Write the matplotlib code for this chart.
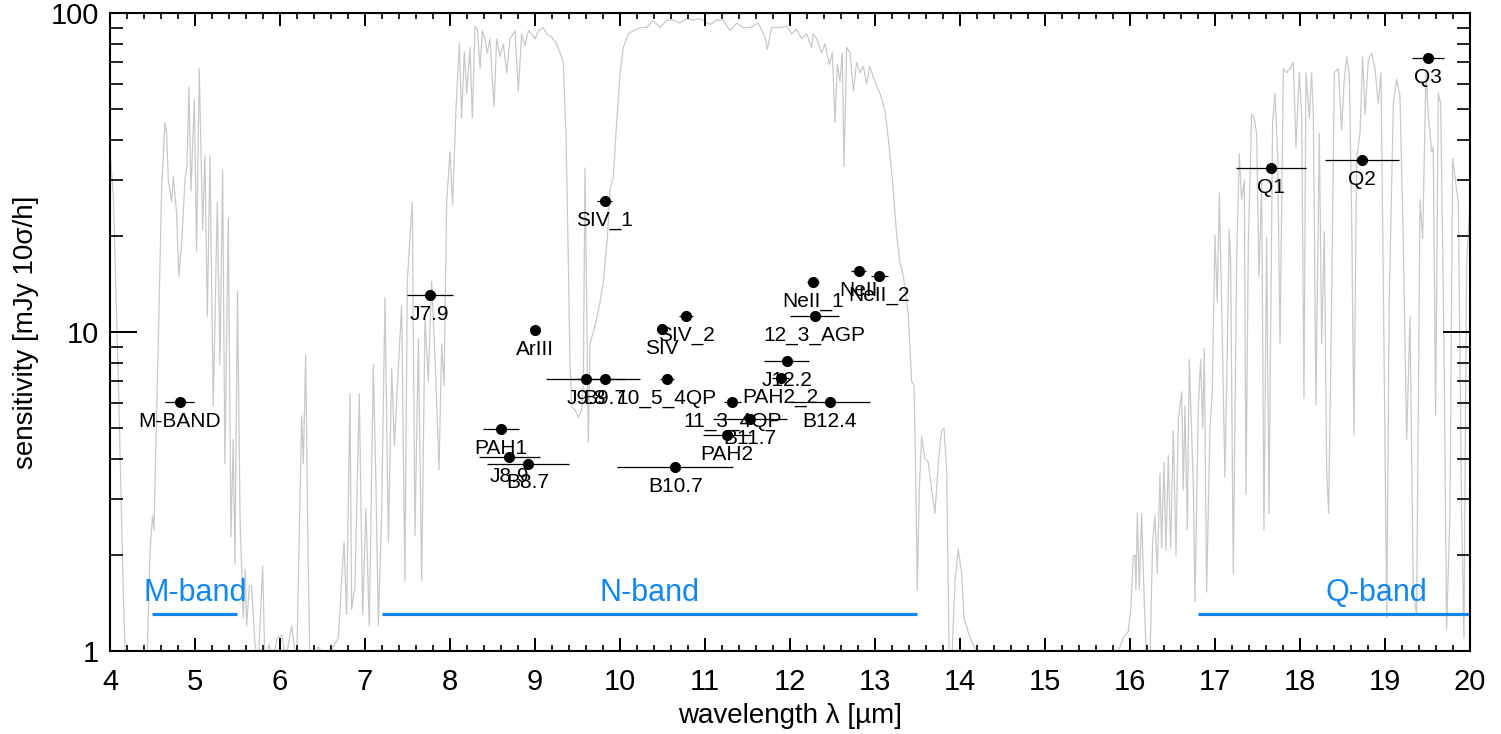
import matplotlib
matplotlib.use('Agg')
import matplotlib.pyplot as plt
from matplotlib.ticker import MultipleLocator, FixedLocator, LogLocator, FuncFormatter, NullFormatter

# ---------------- data ----------------
# atmospheric transmission curve (scaled, gray)
trans_wl = [4.00, 4.04, 4.10, 4.156, 4.19, 4.30, 4.43, 4.47, 4.50, 4.517, 4.568, 4.607, 4.647,
            4.666, 4.686, 4.725, 4.745, 4.784, 4.81, 4.843, 4.882, 4.905, 4.929, 4.953, 4.992,
            5.019, 5.05, 5.09, 5.117, 5.145, 5.176, 5.215, 5.235, 5.262, 5.294, 5.325, 5.352,
            5.392, 5.423, 5.45, 5.47, 5.50, 5.53, 5.568, 5.59, 5.607, 5.64, 5.666, 5.706, 5.745,
            5.796, 5.823, 5.87, 5.92, 5.97, 6.02, 6.07, 6.137, 6.196, 6.23, 6.255, 6.274, 6.302,
            6.33, 6.353, 6.45, 6.55, 6.686, 6.753, 6.784, 6.823, 6.843, 6.882, 6.933, 6.972,
            7.011, 7.05, 7.098, 7.129, 7.157, 7.196, 7.235, 7.275, 7.314, 7.345, 7.392, 7.431,
            7.47, 7.498, 7.53, 7.557, 7.588, 7.628, 7.667, 7.706, 7.745, 7.784, 7.824, 7.871,
            7.902, 7.93, 7.961, 8.00, 8.03, 8.07, 8.11, 8.137, 8.169, 8.196, 8.235, 8.263, 8.294,
            8.322, 8.353, 8.38, 8.41, 8.44, 8.47, 8.518, 8.549, 8.588, 8.628, 8.667, 8.706,
            8.765, 8.804, 8.843, 8.882, 8.922, 8.961, 9.00, 9.04, 9.098, 9.137, 9.196, 9.255,
            9.294, 9.333, 9.365, 9.392, 9.412, 9.431, 9.47, 9.51, 9.549, 9.569, 9.588, 9.608,
            9.627, 9.647, 9.686, 9.725, 9.765, 9.804, 9.851, 9.882, 9.922, 9.961, 10.00, 10.04,
            10.098, 10.157, 10.235, 10.314, 10.39, 10.47, 10.55, 10.627, 10.70, 10.784, 10.86,
            10.94, 11.00, 11.06, 11.14, 11.215, 11.294, 11.372, 11.45, 11.53, 11.627, 11.706,
            11.733, 11.784, 11.882, 11.96, 12.02, 12.078, 12.137, 12.196, 12.255, 12.274, 12.314,
            12.372, 12.41, 12.462, 12.498, 12.529, 12.557, 12.588, 12.615, 12.635, 12.667,
            12.706, 12.745, 12.784, 12.823, 12.863, 12.902, 12.94, 12.98, 13.02, 13.059, 13.117,
            13.157, 13.215, 13.255, 13.294, 13.333, 13.392, 13.431, 13.459, 13.478, 13.498,
            13.521, 13.549, 13.588, 13.627, 13.667, 13.706, 13.745, 13.784, 13.812, 13.843,
            13.874, 13.902, 13.941, 13.98, 14.02, 14.047, 14.118, 14.196, 14.30, 15.00, 15.804,
            15.92, 15.98, 16.012, 16.039, 16.059, 16.07, 16.086, 16.11, 16.137, 16.165, 16.196,
            16.235, 16.267, 16.294, 16.321, 16.353, 16.372, 16.40, 16.423, 16.451, 16.478,
            16.51, 16.541, 16.568, 16.608, 16.627, 16.647, 16.674, 16.698, 16.745, 16.765,
            16.804, 16.831, 16.855, 16.874, 16.902, 16.941, 16.968, 17.00, 17.027, 17.051,
            17.078, 17.117, 17.145, 17.168, 17.184, 17.215, 17.255, 17.286, 17.313, 17.345,
            17.365, 17.392, 17.431, 17.459, 17.49, 17.517, 17.549, 17.576, 17.608, 17.635,
            17.678, 17.706, 17.737, 17.765, 17.804, 17.843, 17.882, 17.921, 17.953, 17.992,
            18.02, 18.047, 18.07, 18.11, 18.137, 18.157, 18.188, 18.227, 18.255, 18.286,
            18.314, 18.337, 18.372, 18.404, 18.451, 18.49, 18.517, 18.549, 18.58, 18.608,
            18.635, 18.666, 18.706, 18.737, 18.765, 18.804, 18.843, 18.882, 18.921, 18.953,
            18.988, 19.02, 19.05, 19.098, 19.137, 19.176, 19.215, 19.255, 19.294, 19.333,
            19.372, 19.412, 19.443, 19.482, 19.51, 19.549, 19.568, 19.596, 19.627, 19.655,
            19.694, 19.725, 19.764, 19.796, 19.823, 19.862, 19.902, 19.929, 19.96, 20.0]
trans_val = [37, 26.5, 6.8, 1.53, 0.8, 0.8, 0.8, 2.04, 2.65, 2.4, 9.2, 28, 45.4,
             42, 30, 25.6, 30.7, 23.4, 14.9, 19, 30, 33, 58.6, 27.7, 53.5,
             17.9, 67, 20.9, 35.7, 11.2, 35.7, 5.87, 10.7, 25.6, 7.9, 32.2, 3.86,
             22.8, 2.28, 4.6, 1.87, 13.4, 2.6, 1.27, 1.8, 1.2, 1.6, 1.6, 1.05, 0.9,
             1.85, 0.9, 1.05, 0.95, 1.1, 1.12, 0.95, 1.2, 0.9, 2.5, 5.46, 3.86, 8.5,
             2.0, 0.9, 1.03, 0.95, 1.1, 2.2, 1.3, 6.4, 1.35, 1.6, 6.4, 1.3,
             2.8, 1.2, 7.9, 3.3, 1.2, 2.7, 12.8, 2.2, 7.7, 4.4, 7.7, 12.1,
             1.66, 14.4, 20.1, 25.6, 2.3, 9.5, 1.66, 11, 7, 14.4, 8.3, 3.7,
             9.2, 6.8, 25.6, 36.7, 25, 49.7, 80.5, 46.9, 75.6, 56, 78, 47, 90.6,
             89, 67, 88, 83, 75, 83, 51, 83, 73, 80, 65, 83,
             88, 57, 86, 79, 88, 86, 83, 88, 90, 86, 84, 80,
             75, 70, 41.5, 16.8, 7.9, 5.87, 5.7, 5.4, 5.7, 7.0, 32.7, 12.4,
             4.5, 9.2, 10, 11, 12.4, 14.4, 19.6, 28, 30.7, 45.4, 65, 78,
             86, 88, 90, 90, 94.8, 90, 95, 95, 93, 96, 95,
             96, 94, 92, 95, 95, 88, 93, 90, 90, 93, 84,
             76.8, 90, 90, 91, 86, 89, 83, 86, 78, 86, 83,
             75, 80, 69, 75, 45.4, 69, 61, 75, 33, 78,
             75, 57, 70, 65, 68, 60, 68, 63, 59, 56, 49.7,
             40.3, 28, 20.1, 16.5, 15.0, 11.3, 7.0, 6.8, 3.7, 1.55,
             3.2, 4.7, 4.0, 3.9, 3.2, 2.7, 3.9, 4.9, 5.0, 3.7,
             0.9, 0.9, 1.66, 2.08, 1.75, 1.27, 1.1, 1.0, 0.8, 0.8, 0.9,
             1.1, 1.15, 1.38, 1.98, 2.0, 1.56, 2.7, 1.56, 2.7, 1.5, 0.9,
             0.95, 2.2, 2.65, 1.75, 3.6, 2.1, 3.9, 2.08, 4.1, 2.1,
             4.9, 2.0, 5.3, 6.5, 3.2, 5.87, 2.4, 8.2, 3.3, 1.43,
             5.9, 8.2, 5.0, 8.9, 1.53, 5.0, 6.5, 20.1, 12.4, 27.3,
             12.4, 3.5, 8.9, 21, 16.8, 1.75, 16.8, 36.2, 26, 30,
             3.1, 18.7, 48.2, 47, 42, 14.9, 29.3, 2.4, 19.8, 2.7,
             45.4, 56, 36, 9.2, 67, 65, 67, 70, 38, 65,
             48, 6.2, 65, 47, 65, 48, 5.9, 42, 9.2, 20.7,
             3.7, 2.7, 12.4, 65, 67, 43, 60, 73, 64, 22.8,
             4.75, 35, 42, 73, 48, 71, 75, 67, 52, 65,
             9.2, 1.27, 12.4, 52, 62, 55, 19.3, 4.6, 11.2, 1.53,
             1.3, 26, 19.6, 65, 48, 36.7, 38, 5.5, 56, 52,
             9.2, 1.17, 2.7, 35, 30.7, 25.6, 2.7, 1.1, 16.5, 25.6]

# filters: name, central wavelength, half width, sensitivity
filter_names = ["M-BAND", "J7.9", "PAH1", "J8.9", "B8.7", "ArIII", "SIV_1", "J9.8", "B9.7",
                "SIV", "SIV_2", "10_5_4QP", "B10.7", "11_3_4QP", "PAH2_2", "J12.2", "B12.4",
                "B11.7", "PAH2", "NeII_1", "NeII", "NeII_2", "12_3_AGP", "Q1", "Q2", "Q3"]
filter_wl = [4.82, 7.76, 8.60, 8.70, 8.92, 9.00, 9.82, 9.60, 9.82,
             10.49, 10.78, 10.55, 10.65, 11.32, 11.89, 11.96, 12.47,
             11.53, 11.26, 12.27, 12.81, 13.05, 12.29, 17.66, 18.73, 19.51]
filter_hw = [0.17, 0.27, 0.21, 0.36, 0.48, 0.04, 0.09, 0.47, 0.41,
             0.05, 0.08, 0.08, 0.68, 0.10, 0.10, 0.26, 0.47,
             0.43, 0.28, 0.07, 0.09, 0.10, 0.29, 0.41, 0.43, 0.19]
filter_sens = [6.04, 13.1, 4.98, 4.06, 3.87, 10.15, 25.8, 7.13, 7.13,
               10.2, 11.2, 7.13, 3.77, 6.05, 7.17, 8.11, 6.05,
               5.34, 4.76, 14.3, 15.5, 15.0, 11.2, 32.7, 34.6, 72.3]

# atmospheric bands
band_names = ["M-band", "N-band", "Q-band"]
band_lo = [4.5, 7.2, 16.8]
band_hi = [5.5, 13.5, 21.0]
band_level = 1.305
band_text_level = 1.43

# ---------------- plot ----------------
plt.rcParams['font.family'] = ['Liberation Sans', 'DejaVu Sans']
blue = '#1287f0'

fig = plt.figure(figsize=(15.01, 7.34), dpi=100)
ax = fig.add_axes([0.07328, 0.11308, 0.90606, 0.86921])

ax.plot(trans_wl, trans_val, color='#c9c9c9', lw=0.9, zorder=1)

for name, lo, hi in zip(band_names, band_lo, band_hi):
    ax.plot([lo, hi], [band_level, band_level], color=blue, lw=2.3,
            solid_capstyle='butt', zorder=2)
    ax.text((lo + hi) / 2, band_text_level, name, color=blue, fontsize=22,
            ha='center', va='baseline', zorder=2)

ax.errorbar(filter_wl, filter_sens, xerr=filter_hw, fmt='o', color='black',
            ms=7, elinewidth=0.9, capsize=0, zorder=3)
for name, x, y in zip(filter_names, filter_wl, filter_sens):
    ax.annotate(name, (x, y), xytext=(0, -14), textcoords='offset points',
                ha='center', va='center', fontsize=15, color='black', zorder=4)

ax.set_xlim(4, 20)
ax.set_yscale('log')
ax.set_ylim(1, 100)

ax.xaxis.set_major_locator(MultipleLocator(1))
ax.xaxis.set_minor_locator(MultipleLocator(0.2))
ax.yaxis.set_major_locator(FixedLocator([1, 10, 100]))
ax.yaxis.set_minor_locator(LogLocator(base=10, subs=[2, 3, 4, 5, 6, 7, 8, 9]))
ax.yaxis.set_major_formatter(FuncFormatter(lambda v, p: f'{v:g}'))
ax.yaxis.set_minor_formatter(NullFormatter())

ax.tick_params(axis='x', which='major', direction='in', length=9.4, width=1.4,
               top=True, labelsize=21, pad=12)
ax.tick_params(axis='x', which='minor', direction='in', length=4.3, width=1.2, top=True)
ax.tick_params(axis='y', which='major', direction='in', length=19.4, width=1.4,
               right=True, labelsize=21, pad=8)
ax.tick_params(axis='y', which='minor', direction='in', length=9.4, width=1.2, right=True)
for s in ax.spines.values():
    s.set_linewidth(1.5)

ax.set_xlabel('wavelength λ [µm]', fontsize=20, labelpad=5)
ax.set_ylabel('sensitivity [mJy 10σ/h]', fontsize=20, labelpad=8)

fig.savefig('out.png', dpi=100)
